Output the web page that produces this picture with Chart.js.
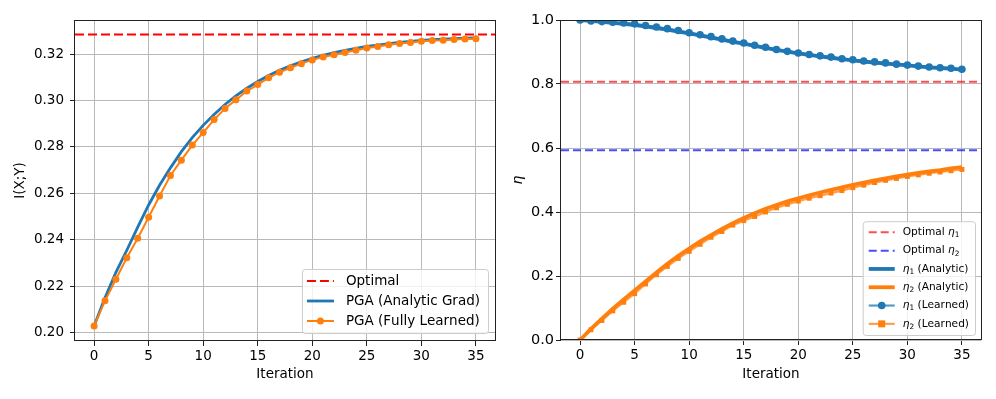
<!DOCTYPE html>
<html>
<head>
<meta charset="utf-8">
<script src="https://cdn.jsdelivr.net/npm/chart.js@4.4.1/dist/chart.umd.min.js"></script>
<style>
  html, body { margin: 0; padding: 0; background: #fff; }
  #wrap { position: relative; width: 996px; height: 399px; }
  #left { position: absolute; left: 0; top: 0; }
  #right { position: absolute; left: 500px; top: 0; }
</style>
</head>
<body>
<div id="wrap">
  <canvas id="left" width="500" height="399"></canvas>
  <canvas id="right" width="496" height="399"></canvas>
</div>
<script>
// data
const iterations = [0, 1, 2, 3, 4, 5, 6, 7, 8, 9, 10, 11, 12, 13, 14, 15, 16, 17,
  18, 19, 20, 21, 22, 23, 24, 25, 26, 27, 28, 29, 30, 31, 32, 33, 34, 35];

const miAnalytic = [0.2029, 0.2150, 0.2260, 0.2355, 0.2455, 0.2550, 0.2635, 0.2710, 0.2780,
  0.2840, 0.2893, 0.2940, 0.2983, 0.3020, 0.3053, 0.3082, 0.3108, 0.3130, 0.3150, 0.3167,
  0.3182, 0.3195, 0.3206, 0.3216, 0.3225, 0.3233, 0.3239, 0.3245, 0.3250, 0.3255, 0.3259,
  0.3262, 0.3265, 0.3267, 0.3269, 0.3270];
const miLearned = [0.2029, 0.2137, 0.2230, 0.2323, 0.2407, 0.2497, 0.2589, 0.2677, 0.2743,
  0.2808, 0.2862, 0.2918, 0.2966, 0.3003, 0.3041, 0.3069, 0.3098, 0.3122, 0.3141, 0.3159,
  0.3175, 0.3188, 0.3197, 0.3207, 0.3217, 0.3226, 0.3233, 0.3240, 0.3246, 0.3250, 0.3255,
  0.3259, 0.3260, 0.3263, 0.3265, 0.3266];
const miOptimal = 0.3284;

const eta1Analytic = [1.000, 0.997, 0.994, 0.991, 0.988, 0.984, 0.980, 0.975, 0.970, 0.964,
  0.958, 0.952, 0.945, 0.939, 0.932, 0.926, 0.919, 0.913, 0.907, 0.901, 0.896, 0.891, 0.886,
  0.882, 0.878, 0.874, 0.870, 0.867, 0.864, 0.861, 0.858, 0.855, 0.852, 0.850, 0.848, 0.845];
const eta2Analytic = [0.000, 0.035, 0.067, 0.098, 0.127, 0.155, 0.183, 0.211, 0.238, 0.263,
  0.286, 0.308, 0.328, 0.347, 0.365, 0.381, 0.396, 0.410, 0.422, 0.433, 0.443, 0.452, 0.461,
  0.469, 0.477, 0.485, 0.492, 0.499, 0.505, 0.511, 0.517, 0.522, 0.527, 0.531, 0.536, 0.540];
const eta1Learned = [1.000, 0.997, 0.995, 0.993, 0.991, 0.988, 0.983, 0.978, 0.973, 0.967,
  0.960, 0.954, 0.948, 0.941, 0.934, 0.928, 0.921, 0.915, 0.908, 0.902, 0.897, 0.892, 0.888,
  0.884, 0.879, 0.876, 0.872, 0.869, 0.866, 0.862, 0.859, 0.856, 0.853, 0.851, 0.849, 0.846];
const eta2Learned = [0.000, 0.032, 0.061, 0.091, 0.118, 0.145, 0.175, 0.204, 0.230, 0.255,
  0.277, 0.299, 0.321, 0.339, 0.359, 0.373, 0.386, 0.400, 0.413, 0.424, 0.434, 0.443, 0.451,
  0.459, 0.467, 0.476, 0.484, 0.492, 0.499, 0.505, 0.511, 0.516, 0.521, 0.525, 0.529, 0.533];
const eta1Optimal = 0.807;
const eta2Optimal = 0.593;

const xTicks = [0, 5, 10, 15, 20, 25, 30, 35];
const miTicks = [0.20, 0.22, 0.24, 0.26, 0.28, 0.30, 0.32];
const etaTicks = [0, 0.2, 0.4, 0.6, 0.8, 1.0];
const xRange = [-1.75, 36.75];

const FONT = '"DejaVu Sans", sans-serif';
const BLUE = '#1f77b4';
const ORANGE = '#ff7f0e';
const GRID = '#b9b9b9';

Chart.defaults.color = '#000';
Chart.defaults.font.family = FONT;

const pts = vals => iterations.map((t, i) => ({ x: t, y: vals[i] }));
const hline = v => xRange.map(x => ({ x: x, y: v }));

// draws labels like "Optimal η₁" with italic eta and a real subscript
const SUBS = { '₁': '1', '₂': '2' };
function drawLabel(ctx, text, x, y, size, measureOnly) {
  let cx = x;
  for (const ch of text) {
    let s = ch, dy = 0;
    if (ch === 'η') ctx.font = 'italic ' + size + 'px ' + FONT;
    else if (SUBS[ch]) { ctx.font = (size * 0.7) + 'px ' + FONT; s = SUBS[ch]; dy = size * 0.28; }
    else ctx.font = size + 'px ' + FONT;
    if (!measureOnly) ctx.fillText(s, cx, y + dy);
    cx += ctx.measureText(s).width;
  }
  return cx - x;
}

function drawMarker(ctx, style, x, y, r, color) {
  ctx.fillStyle = color;
  ctx.beginPath();
  if (style === 'rect') ctx.rect(x - r, y - r, 2 * r, 2 * r);
  else ctx.arc(x, y, r, 0, Math.PI * 2);
  ctx.fill();
}

// legend inside the plot, bottom right, like matplotlib's
const insideLegend = {
  id: 'insideLegend',
  afterDraw(chart, args, o) {
    const ctx = chart.ctx, area = chart.chartArea;
    const items = chart.data.datasets;
    ctx.save();
    const textW = Math.max(...items.map(d => drawLabel(ctx, d.label, 0, 0, o.size, true)));
    const w = o.padL + o.sample + o.gap + textW + o.padR;
    const h = items.length * o.rowH + o.padY * 2;
    const x = area.right - o.right - w, y = area.bottom - o.bottom - h;
    ctx.beginPath();
    ctx.roundRect(x + 0.5, y + 0.5, w, h, 3);
    ctx.fillStyle = 'rgba(255,255,255,0.8)';
    ctx.fill();
    ctx.strokeStyle = '#cccccc';
    ctx.lineWidth = 1;
    ctx.stroke();
    items.forEach((d, i) => {
      const cy = y + o.padY + o.rowH * (i + 0.5);
      const x0 = x + o.padL;
      ctx.beginPath();
      ctx.setLineDash(d.borderDash || []);
      ctx.strokeStyle = d.borderColor;
      ctx.lineWidth = d.borderWidth;
      ctx.moveTo(x0, cy);
      ctx.lineTo(x0 + o.sample, cy);
      ctx.stroke();
      ctx.setLineDash([]);
      if (d.pointRadius) drawMarker(ctx, d.pointStyle, x0 + o.sample / 2, cy, d.pointRadius, d.pointBackgroundColor);
      ctx.fillStyle = '#000';
      ctx.textBaseline = 'middle';
      drawLabel(ctx, d.label, x0 + o.sample + o.gap, cy, o.size);
    });
    ctx.restore();
  }
};

// matplotlib style full box round the axes
const frame = {
  id: 'frame',
  afterDatasetsDraw(chart) {
    const a = chart.chartArea, ctx = chart.ctx;
    ctx.save();
    ctx.strokeStyle = '#222';
    ctx.lineWidth = 1;
    ctx.strokeRect(Math.round(a.left) - 0.5, Math.round(a.top) + 0.5,
      Math.round(a.right - a.left) + 1, Math.round(a.bottom - a.top) - 1);
    ctx.restore();
  }
};

function axes(opt) {
  return {
    x: {
      type: 'linear', min: xRange[0], max: xRange[1],
      afterBuildTicks: s => { s.ticks = xTicks.map(v => ({ value: v })); },
      afterFit: s => { s.height = opt.xHeight; },
      grid: { color: GRID, lineWidth: 1, tickColor: '#222', tickLength: 5 },
      border: { display: false },
      ticks: { font: { size: 13.5 }, padding: 2, maxRotation: 0, callback: v => String(v) },
      title: { display: true, text: 'Iteration', font: { size: 13.5 }, padding: { top: 0, bottom: 16 } }
    },
    y: {
      min: opt.yRange[0], max: opt.yRange[1],
      afterBuildTicks: s => { s.ticks = opt.yTicks.map(v => ({ value: v })); },
      afterFit: s => { s.width = opt.yWidth; },
      grid: { color: GRID, lineWidth: 1, tickColor: '#222', tickLength: 5 },
      border: { display: false },
      ticks: { font: { size: opt.yTickSize }, padding: opt.yPad, callback: v => v.toFixed(opt.dec) },
      title: { display: true, text: opt.yTitle, font: opt.yTitleFont, padding: { top: opt.yTitlePad, bottom: 0 } }
    }
  };
}

const common = {
  responsive: false,
  animation: false,
  events: [],
  plugins: { legend: { display: false }, tooltip: { enabled: false } }
};

// left panel: mutual information
new Chart(document.getElementById('left'), {
  type: 'line',
  data: {
    datasets: [
      { label: 'Optimal', data: hline(miOptimal), borderColor: '#ff0000', borderWidth: 2,
        borderDash: [9, 4], pointRadius: 0, order: 2 },
      { label: 'PGA (Analytic Grad)', data: pts(miAnalytic), borderColor: BLUE, borderWidth: 2.8,
        pointRadius: 0, order: 1 },
      { label: 'PGA (Fully Learned)', data: pts(miLearned), borderColor: ORANGE, borderWidth: 2,
        pointRadius: 3.5, pointStyle: 'circle', pointBackgroundColor: ORANGE, pointBorderWidth: 0, order: 0 }
    ]
  },
  options: Object.assign({}, common, {
    clip: 0,
    layout: { padding: { top: 20, right: 5, left: 0, bottom: 0 } },
    scales: axes({ xHeight: 58, yWidth: 75, yRange: [0.1964, 0.3347], yTicks: miTicks, dec: 2,
      yTickSize: 13.5, yPad: 6, yTitle: 'I(X;Y)', yTitleFont: { size: 13.5 }, yTitlePad: 12 }),
    plugins: Object.assign({}, common.plugins, {
      insideLegend: { right: 7, bottom: 8, size: 13.5, rowH: 20, sample: 27, gap: 12, padL: 5, padR: 8, padY: 2 }
    })
  }),
  plugins: [frame, insideLegend]
});

// right panel: eta parameters
new Chart(document.getElementById('right'), {
  type: 'line',
  data: {
    datasets: [
      { label: 'Optimal η₁', data: hline(eta1Optimal), borderColor: 'rgba(255,0,0,0.7)', borderWidth: 2,
        borderDash: [8, 4], pointRadius: 0, order: 5 },
      { label: 'Optimal η₂', data: hline(eta2Optimal), borderColor: 'rgba(0,0,255,0.7)', borderWidth: 2,
        borderDash: [8, 4], pointRadius: 0, order: 4 },
      { label: 'η₁ (Analytic)', data: pts(eta1Analytic), borderColor: BLUE, borderWidth: 3.8,
        pointRadius: 0, order: 3 },
      { label: 'η₂ (Analytic)', data: pts(eta2Analytic), borderColor: ORANGE, borderWidth: 3.8,
        pointRadius: 0, order: 2 },
      { label: 'η₁ (Learned)', data: pts(eta1Learned), borderColor: 'rgba(31,119,180,0.75)', borderWidth: 2.2,
        pointRadius: 3.8, pointStyle: 'circle', pointBackgroundColor: BLUE, pointBorderWidth: 0, order: 1 },
      { label: 'η₂ (Learned)', data: pts(eta2Learned), borderColor: 'rgba(255,127,14,0.75)', borderWidth: 2.2,
        pointRadius: 3.5, pointStyle: 'rect', pointBackgroundColor: ORANGE, pointBorderWidth: 0, order: 0 }
    ]
  },
  options: Object.assign({}, common, {
    clip: 0,
    layout: { padding: { top: 20, right: 15, left: 0, bottom: 0 } },
    scales: axes({ xHeight: 59, yWidth: 61, yRange: [0, 1], yTicks: etaTicks, dec: 1,
      yTickSize: 14.5, yPad: 2, yTitle: 'η', yTitleFont: { size: 14, style: 'italic' }, yTitlePad: 10 }),
    plugins: Object.assign({}, common.plugins, {
      insideLegend: { right: 6, bottom: 5, size: 10.6, rowH: 18.3, sample: 26, gap: 8, padL: 6, padR: 6, padY: 2 }
    })
  }),
  plugins: [frame, insideLegend]
});
</script>
</body>
</html>
